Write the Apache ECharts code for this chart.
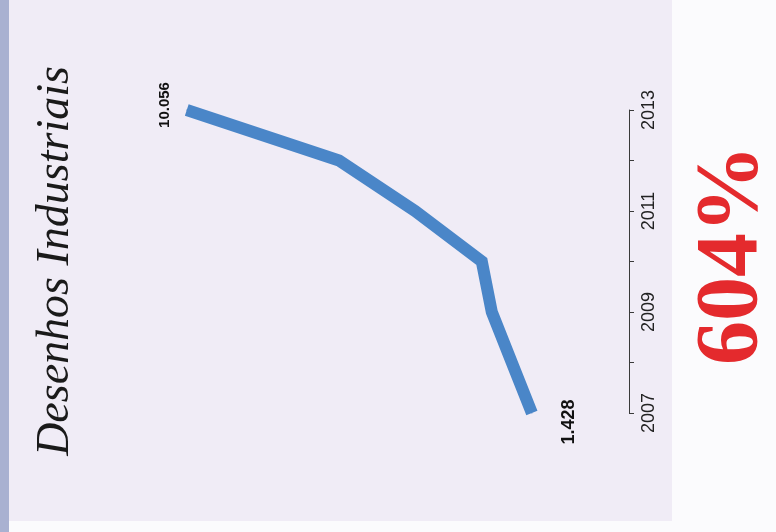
<!DOCTYPE html>
<html>
<head>
<meta charset="utf-8">
<script src="https://cdn.jsdelivr.net/npm/echarts@6/dist/echarts.min.js"></script>
<style>
html,body{margin:0;padding:0;background:#fbfbfd;}
#chart{width:776px;height:532px;}
</style>
</head>
<body>
<div id="chart"></div>
<script>
// Data
var years = ['2007', '2008', '2009', '2010', '2011', '2012', '2013'];
var values = [1.428, 1.93, 2.43, 2.68, 4.35, 6.25, 10.056];
var valueLabels = ['1.428', '', '', '', '', '', '10.056'];
var titleText = 'Desenhos Industriais';
var growthText = '604%';

var chart = echarts.init(document.getElementById('chart'), null, {renderer: 'canvas'});

var seriesData = values.map(function (v, i) {
  var d = {value: v};
  if (i === 0) {
    d.label = {show: true, formatter: valueLabels[i], position: 'right', distance: 37, offset: [-9, 0],
      fontFamily: 'Liberation Sans', fontSize: 18};
  } else if (i === values.length - 1) {
    d.label = {show: true, formatter: valueLabels[i], position: 'left', distance: 21, offset: [5, 0],
      fontFamily: 'Liberation Sans', fontSize: 15};
  }
  return d;
});

var option = {
  backgroundColor: '#fbfbfd',
  animation: false,
  graphic: [
    {type: 'rect', z: -10, shape: {x: 0, y: 0, width: 672, height: 521}, style: {fill: '#f0ecf6'}},
    {type: 'rect', z: -9, shape: {x: 0, y: 0, width: 9, height: 532}, style: {fill: '#a9b1d1'}},
    {type: 'text', z: 5, x: 56, y: 261, rotation: Math.PI / 2,
      style: {text: titleText, font: 'italic 46px "Liberation Serif"', fill: '#1a1a1a', align: 'center', verticalAlign: 'middle'}},
    {type: 'text', z: 5, x: 733, y: 255, rotation: Math.PI / 2,
      style: {text: growthText, font: 'bold 88px "Liberation Serif"', fill: '#e42a2d', align: 'center', verticalAlign: 'middle'}}
  ],
  grid: {left: 109, right: 147, top: 110, bottom: 119, containLabel: false},
  xAxis: {
    type: 'value', inverse: true, min: -1, max: 12,
    show: false, splitLine: {show: false}
  },
  yAxis: {
    type: 'category', position: 'right', data: years, boundaryGap: false,
    axisLine: {show: true, onZero: false, lineStyle: {color: '#3a3a3a', width: 1}},
    axisTick: {show: true, interval: 0, length: 5, inside: false, lineStyle: {color: '#3a3a3a'}},
    axisLabel: {show: true, interval: 1, rotate: 90, margin: 11, color: '#222', fontFamily: 'Liberation Sans', fontSize: 18},
    splitLine: {show: false}
  },
  series: [{
    type: 'line',
    data: seriesData,
    symbol: 'circle', symbolSize: 1, showSymbol: true,
    itemStyle: {color: '#4a86c8'},
    lineStyle: {color: '#4a86c8', width: 12, cap: 'butt', join: 'miter'},
    label: {show: false, rotate: 90, align: 'center', verticalAlign: 'middle', color: '#111', fontWeight: 'bold'},
    z: 3
  }]
};
chart.setOption(option);
</script>
</body>
</html>
